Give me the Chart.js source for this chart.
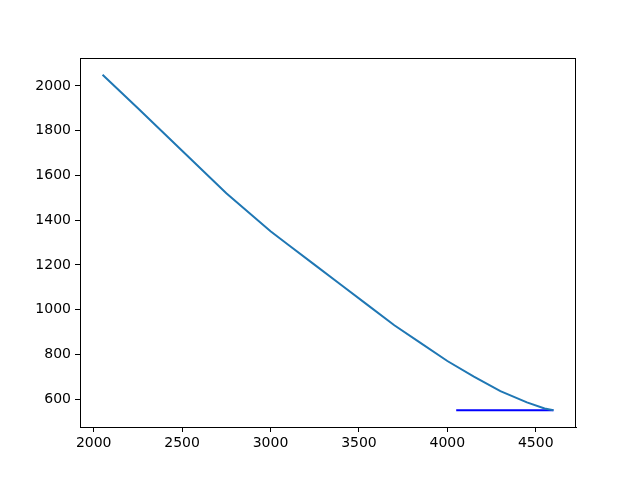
<!DOCTYPE html>
<html>
<head>
<meta charset="utf-8">
<script src="https://cdn.jsdelivr.net/npm/chart.js@4/dist/chart.umd.min.js"></script>
<style>
  html, body { margin: 0; padding: 0; background: #fff; }
  #wrap { width: 640px; height: 480px; }
</style>
</head>
<body>
<div id="wrap"><canvas id="chart" width="640" height="480"></canvas></div>
<script>
// curve values
const curveX = [2050, 2250, 2500, 2750, 3000, 3100, 3250, 3400, 3550, 3700, 3850, 4000, 4150, 4300, 4450, 4550, 4600];
const curveY = [2050, 1900, 1710, 1520, 1350, 1290, 1200, 1110, 1020, 930, 850, 770, 700, 635, 585, 558, 550];

// horizontal blue segment
const segX = [4050, 4600];
const segY = [550, 550];

// tick labels
const xTicks = [2000, 2500, 3000, 3500, 4000, 4500];
const yTicks = [600, 800, 1000, 1200, 1400, 1600, 1800, 2000];

const toPoints = (xs, ys) => xs.map((x, i) => ({ x: x, y: ys[i] }));

// frame around the plot area, like matplotlib's spines
const framePlugin = {
    id: 'frame',
    afterDraw(chart) {
        const a = chart.chartArea;
        const ctx = chart.ctx;
        ctx.save();
        ctx.strokeStyle = '#000';
        ctx.lineWidth = 1;
        ctx.strokeRect(a.left + 0.5, a.top + 0.5, a.right - a.left - 1, a.bottom - a.top);
        ctx.restore();
    }
};

const tickFont = { family: 'DejaVu Sans', size: 14 };

new Chart(document.getElementById('chart').getContext('2d'), {
    type: 'scatter',
    data: {
        datasets: [{
            data: toPoints(curveX, curveY),
            showLine: true,
            borderColor: '#1f77b4',
            borderWidth: 2,
            pointRadius: 0,
            tension: 0
        }, {
            data: toPoints(segX, segY),
            showLine: true,
            borderColor: '#0000ff',
            borderWidth: 2,
            pointRadius: 0
        }]
    },
    options: {
        responsive: false,
        animation: false,
        layout: { padding: { top: 58, right: 64, left: 0, bottom: 0 } },
        plugins: {
            legend: { display: false },
            tooltip: { enabled: false }
        },
        scales: {
            x: {
                type: 'linear',
                min: 1922.5,
                max: 4727.5,
                afterFit: (scale) => { scale.height = 53; },
                afterBuildTicks: (scale) => { scale.ticks = xTicks.map(v => ({ value: v })); },
                grid: { drawOnChartArea: false, tickLength: 5, tickColor: '#000' },
                border: { display: true, color: '#000' },
                ticks: {
                    color: '#000',
                    font: tickFont,
                    padding: 3,
                    maxRotation: 0,
                    callback: (v) => String(v)
                }
            },
            y: {
                type: 'linear',
                min: 475,
                max: 2125,
                afterFit: (scale) => { scale.width = 80; },
                afterBuildTicks: (scale) => { scale.ticks = yTicks.map(v => ({ value: v })); },
                grid: { drawOnChartArea: false, tickLength: 5, tickColor: '#000' },
                border: { display: true, color: '#000' },
                ticks: {
                    color: '#000',
                    font: tickFont,
                    padding: 4,
                    callback: (v) => String(v)
                }
            }
        }
    },
    plugins: [framePlugin]
});
</script>
</body>
</html>
